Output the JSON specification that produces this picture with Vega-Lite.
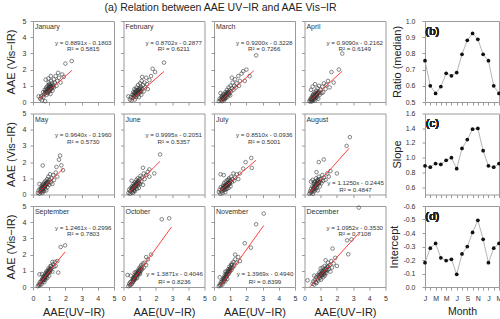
{
"$schema":"https://vega.github.io/schema/vega-lite/v6.json",
"autosize":"pad",
"padding":{"left":4,"top":3,"right":1,"bottom":4},
"title":{"text":"(a) Relation between AAE UV−IR and AAE Vis−IR","fontSize":10.5,"fontWeight":"normal","color":"#222","anchor":"middle","frame":"bounds","dx":-33,"offset":3},
"config":{
 "font":"Liberation Sans",
 "view":{"stroke":"#9a9a9a","strokeWidth":1},
 "axis":{"domain":false,"tickColor":"#9a9a9a","tickSize":3,"labelFontSize":7,"labelColor":"#333","titleFontSize":11,"titleFontWeight":"normal","titleColor":"#222","labelPadding":4,"labelOverlap":false,"labelFlush":false,"grid":false}
},
"datasets":{
"pts":[
{"m":1,"x":0.45,"y":0.2},{"m":1,"x":0.5,"y":0.35},{"m":1,"x":0.55,"y":0.1},{"m":1,"x":0.6,"y":0.4},{"m":1,"x":0.62,"y":0.6},{"m":1,"x":0.65,"y":0.3},{"m":1,"x":0.7,"y":0.5},{"m":1,"x":0.72,"y":0.75},{"m":1,"x":0.75,"y":0.05},{"m":1,"x":0.78,"y":1.38},{"m":1,"x":0.8,"y":0.6},{"m":1,"x":0.82,"y":0.9},{"m":1,"x":0.85,"y":0.45},{"m":1,"x":0.88,"y":0.7},{"m":1,"x":0.9,"y":1.0},{"m":1,"x":0.92,"y":0.55},{"m":1,"x":0.95,"y":0.85},{"m":1,"x":0.97,"y":1.2},{"m":1,"x":1.0,"y":0.65},{"m":1,"x":1.0,"y":0.95},{"m":1,"x":1.02,"y":1.1},{"m":1,"x":1.05,"y":0.8},{"m":1,"x":1.08,"y":0.5},{"m":1,"x":1.1,"y":1.0},{"m":1,"x":1.12,"y":1.3},{"m":1,"x":1.15,"y":0.85},{"m":1,"x":1.18,"y":1.15},{"m":1,"x":1.2,"y":0.7},{"m":1,"x":1.25,"y":1.05},{"m":1,"x":1.28,"y":1.4},{"m":1,"x":1.3,"y":0.9},{"m":1,"x":1.35,"y":1.2},{"m":1,"x":1.4,"y":1.6},{"m":1,"x":1.45,"y":1.0},{"m":1,"x":1.5,"y":1.3},{"m":1,"x":1.55,"y":1.8},{"m":1,"x":1.6,"y":1.5},{"m":1,"x":1.7,"y":1.2},{"m":1,"x":1.8,"y":1.7},{"m":1,"x":1.9,"y":1.55},{"m":1,"x":2.0,"y":2.37},{"m":1,"x":2.39,"y":2.53},{"m":1,"x":0.35,"y":0.35},{"m":1,"x":1.1,"y":1.6},{"m":1,"x":0.95,"y":1.45},
{"m":1,"x":0.75,"y":0.62},{"m":1,"x":0.8,"y":0.78},{"m":1,"x":0.85,"y":0.66},{"m":1,"x":0.9,"y":0.82},{"m":1,"x":0.95,"y":0.7},{"m":1,"x":1.0,"y":0.88},{"m":1,"x":1.03,"y":0.72},{"m":1,"x":1.07,"y":0.92},{"m":1,"x":1.1,"y":0.78},{"m":1,"x":1.13,"y":0.98},{"m":1,"x":1.17,"y":0.9},{"m":1,"x":1.22,"y":0.95},{"m":1,"x":0.87,"y":0.58},{"m":1,"x":0.98,"y":1.05},
{"m":2,"x":0.4,"y":0.15},{"m":2,"x":0.45,"y":0.3},{"m":2,"x":0.5,"y":0.1},{"m":2,"x":0.55,"y":0.45},{"m":2,"x":0.58,"y":0.25},{"m":2,"x":0.6,"y":0.6},{"m":2,"x":0.65,"y":0.35},{"m":2,"x":0.68,"y":0.8},{"m":2,"x":0.7,"y":0.15},{"m":2,"x":0.72,"y":0.5},{"m":2,"x":0.75,"y":0.65},{"m":2,"x":0.78,"y":0.3},{"m":2,"x":0.8,"y":0.9},{"m":2,"x":0.82,"y":0.55},{"m":2,"x":0.85,"y":0.4},{"m":2,"x":0.88,"y":0.75},{"m":2,"x":0.9,"y":1.05},{"m":2,"x":0.92,"y":0.6},{"m":2,"x":0.95,"y":0.3},{"m":2,"x":0.98,"y":0.85},{"m":2,"x":1.0,"y":0.55},{"m":2,"x":1.02,"y":1.15},{"m":2,"x":1.05,"y":0.7},{"m":2,"x":1.08,"y":0.95},{"m":2,"x":1.1,"y":0.45},{"m":2,"x":1.12,"y":1.3},{"m":2,"x":1.15,"y":0.8},{"m":2,"x":1.2,"y":1.05},{"m":2,"x":1.25,"y":0.65},{"m":2,"x":1.3,"y":1.2},{"m":2,"x":1.35,"y":0.9},{"m":2,"x":1.4,"y":1.5},{"m":2,"x":1.45,"y":1.1},{"m":2,"x":1.5,"y":0.8},{"m":2,"x":1.6,"y":1.35},{"m":2,"x":1.7,"y":1.6},{"m":2,"x":1.8,"y":2.05},{"m":2,"x":1.95,"y":1.85},{"m":2,"x":2.5,"y":2.43},{"m":2,"x":0.3,"y":0.35},{"m":2,"x":1.15,"y":1.55},
{"m":2,"x":0.62,"y":0.42},{"m":2,"x":0.66,"y":0.55},{"m":2,"x":0.7,"y":0.4},{"m":2,"x":0.74,"y":0.58},{"m":2,"x":0.78,"y":0.48},{"m":2,"x":0.82,"y":0.68},{"m":2,"x":0.86,"y":0.55},{"m":2,"x":0.9,"y":0.72},{"m":2,"x":0.94,"y":0.6},{"m":2,"x":0.97,"y":0.7},{"m":2,"x":1.01,"y":0.78},{"m":2,"x":1.06,"y":0.85},{"m":2,"x":0.76,"y":0.75},{"m":2,"x":1.1,"y":0.65},
{"m":3,"x":0.3,"y":0.05},{"m":3,"x":0.35,"y":0.2},{"m":3,"x":0.4,"y":0.1},{"m":3,"x":0.45,"y":0.3},{"m":3,"x":0.5,"y":0.05},{"m":3,"x":0.52,"y":0.4},{"m":3,"x":0.55,"y":0.2},{"m":3,"x":0.6,"y":0.5},{"m":3,"x":0.62,"y":0.1},{"m":3,"x":0.65,"y":0.35},{"m":3,"x":0.7,"y":0.6},{"m":3,"x":0.72,"y":0.25},{"m":3,"x":0.75,"y":0.45},{"m":3,"x":0.8,"y":0.75},{"m":3,"x":0.82,"y":0.3},{"m":3,"x":0.85,"y":0.55},{"m":3,"x":0.9,"y":0.9},{"m":3,"x":0.92,"y":0.45},{"m":3,"x":0.95,"y":0.7},{"m":3,"x":1.0,"y":0.4},{"m":3,"x":1.02,"y":1.0},{"m":3,"x":1.05,"y":0.65},{"m":3,"x":1.1,"y":0.85},{"m":3,"x":1.15,"y":1.2},{"m":3,"x":1.2,"y":0.75},{"m":3,"x":1.25,"y":1.0},{"m":3,"x":1.3,"y":1.4},{"m":3,"x":1.35,"y":0.9},{"m":3,"x":1.4,"y":1.15},{"m":3,"x":1.5,"y":1.6},{"m":3,"x":1.55,"y":1.0},{"m":3,"x":1.6,"y":1.3},{"m":3,"x":1.7,"y":1.75},{"m":3,"x":1.8,"y":1.9},{"m":3,"x":1.9,"y":1.3},{"m":3,"x":2.0,"y":2.0},{"m":3,"x":2.2,"y":1.6},{"m":3,"x":2.6,"y":2.88},{"m":3,"x":0.4,"y":0.55},{"m":3,"x":1.1,"y":1.5},
{"m":3,"x":0.45,"y":0.15},{"m":3,"x":0.5,"y":0.25},{"m":3,"x":0.55,"y":0.32},{"m":3,"x":0.58,"y":0.18},{"m":3,"x":0.62,"y":0.28},{"m":3,"x":0.66,"y":0.42},{"m":3,"x":0.7,"y":0.35},{"m":3,"x":0.74,"y":0.5},{"m":3,"x":0.78,"y":0.4},{"m":3,"x":0.82,"y":0.6},{"m":3,"x":0.87,"y":0.5},{"m":3,"x":0.9,"y":0.62},{"m":3,"x":0.68,"y":0.2},{"m":3,"x":0.95,"y":0.55},
{"m":4,"x":0.3,"y":0.05},{"m":4,"x":0.35,"y":0.15},{"m":4,"x":0.38,"y":0.02},{"m":4,"x":0.4,"y":0.25},{"m":4,"x":0.45,"y":0.1},{"m":4,"x":0.48,"y":0.35},{"m":4,"x":0.5,"y":0.05},{"m":4,"x":0.52,"y":0.2},{"m":4,"x":0.55,"y":0.45},{"m":4,"x":0.58,"y":0.15},{"m":4,"x":0.6,"y":0.3},{"m":4,"x":0.62,"y":0.6},{"m":4,"x":0.65,"y":0.1},{"m":4,"x":0.68,"y":0.4},{"m":4,"x":0.7,"y":0.25},{"m":4,"x":0.72,"y":0.7},{"m":4,"x":0.75,"y":0.5},{"m":4,"x":0.78,"y":0.3},{"m":4,"x":0.8,"y":0.85},{"m":4,"x":0.82,"y":0.55},{"m":4,"x":0.85,"y":0.2},{"m":4,"x":0.88,"y":0.65},{"m":4,"x":0.9,"y":1.0},{"m":4,"x":0.95,"y":0.45},{"m":4,"x":1.0,"y":0.75},{"m":4,"x":1.05,"y":0.55},{"m":4,"x":1.1,"y":0.95},{"m":4,"x":1.15,"y":0.6},{"m":4,"x":1.2,"y":1.15},{"m":4,"x":1.3,"y":0.8},{"m":4,"x":1.35,"y":1.05},{"m":4,"x":1.45,"y":1.3},{"m":4,"x":1.55,"y":0.9},{"m":4,"x":0.5,"y":0.95},{"m":4,"x":0.65,"y":1.1},{"m":4,"x":0.4,"y":0.75},{"m":4,"x":1.67,"y":1.85},{"m":4,"x":2.12,"y":2.0},{"m":4,"x":2.33,"y":2.99},{"m":4,"x":1.8,"y":1.2},
{"m":4,"x":0.42,"y":0.12},{"m":4,"x":0.46,"y":0.22},{"m":4,"x":0.5,"y":0.15},{"m":4,"x":0.54,"y":0.3},{"m":4,"x":0.57,"y":0.25},{"m":4,"x":0.6,"y":0.4},{"m":4,"x":0.64,"y":0.32},{"m":4,"x":0.67,"y":0.5},{"m":4,"x":0.71,"y":0.38},{"m":4,"x":0.74,"y":0.55},{"m":4,"x":0.78,"y":0.45},{"m":4,"x":0.83,"y":0.6},{"m":4,"x":0.52,"y":0.45},{"m":4,"x":0.9,"y":0.55},
{"m":5,"x":0.3,"y":0.1},{"m":5,"x":0.35,"y":0.25},{"m":5,"x":0.4,"y":0.05},{"m":5,"x":0.42,"y":0.35},{"m":5,"x":0.45,"y":0.15},{"m":5,"x":0.5,"y":0.4},{"m":5,"x":0.52,"y":0.2},{"m":5,"x":0.55,"y":0.55},{"m":5,"x":0.58,"y":0.1},{"m":5,"x":0.6,"y":0.3},{"m":5,"x":0.62,"y":0.65},{"m":5,"x":0.65,"y":0.45},{"m":5,"x":0.68,"y":0.2},{"m":5,"x":0.7,"y":0.75},{"m":5,"x":0.72,"y":0.5},{"m":5,"x":0.75,"y":0.35},{"m":5,"x":0.78,"y":0.85},{"m":5,"x":0.8,"y":0.6},{"m":5,"x":0.82,"y":0.25},{"m":5,"x":0.85,"y":0.7},{"m":5,"x":0.88,"y":0.95},{"m":5,"x":0.9,"y":0.45},{"m":5,"x":0.93,"y":0.8},{"m":5,"x":0.95,"y":1.1},{"m":5,"x":1.0,"y":0.6},{"m":5,"x":1.02,"y":0.9},{"m":5,"x":1.05,"y":1.25},{"m":5,"x":1.1,"y":0.75},{"m":5,"x":1.15,"y":1.0},{"m":5,"x":1.2,"y":0.65},{"m":5,"x":1.25,"y":1.2},{"m":5,"x":1.3,"y":0.9},{"m":5,"x":1.4,"y":1.35},{"m":5,"x":1.5,"y":1.1},{"m":5,"x":0.6,"y":1.79},{"m":5,"x":1.67,"y":2.4},{"m":5,"x":1.6,"y":2.15},{"m":5,"x":1.75,"y":1.8},{"m":5,"x":1.85,"y":1.5},{"m":5,"x":1.45,"y":1.7},{"m":5,"x":0.4,"y":0.65},
{"m":5,"x":0.5,"y":0.28},{"m":5,"x":0.55,"y":0.35},{"m":5,"x":0.58,"y":0.45},{"m":5,"x":0.62,"y":0.4},{"m":5,"x":0.65,"y":0.55},{"m":5,"x":0.68,"y":0.48},{"m":5,"x":0.72,"y":0.6},{"m":5,"x":0.75,"y":0.52},{"m":5,"x":0.78,"y":0.68},{"m":5,"x":0.82,"y":0.62},{"m":5,"x":0.86,"y":0.75},{"m":5,"x":0.9,"y":0.65},{"m":5,"x":0.6,"y":0.2},{"m":5,"x":0.95,"y":0.78},
{"m":6,"x":0.3,"y":0.1},{"m":6,"x":0.35,"y":0.3},{"m":6,"x":0.4,"y":0.05},{"m":6,"x":0.42,"y":0.2},{"m":6,"x":0.45,"y":0.4},{"m":6,"x":0.5,"y":0.15},{"m":6,"x":0.52,"y":0.5},{"m":6,"x":0.55,"y":0.3},{"m":6,"x":0.58,"y":0.1},{"m":6,"x":0.6,"y":0.45},{"m":6,"x":0.62,"y":0.65},{"m":6,"x":0.65,"y":0.3},{"m":6,"x":0.68,"y":0.55},{"m":6,"x":0.7,"y":0.2},{"m":6,"x":0.72,"y":0.75},{"m":6,"x":0.75,"y":0.45},{"m":6,"x":0.78,"y":0.6},{"m":6,"x":0.8,"y":0.9},{"m":6,"x":0.82,"y":0.35},{"m":6,"x":0.85,"y":0.7},{"m":6,"x":0.88,"y":1.0},{"m":6,"x":0.9,"y":0.55},{"m":6,"x":0.93,"y":0.8},{"m":6,"x":0.95,"y":0.4},{"m":6,"x":1.0,"y":0.95},{"m":6,"x":1.02,"y":0.65},{"m":6,"x":1.05,"y":1.15},{"m":6,"x":1.1,"y":0.8},{"m":6,"x":1.15,"y":1.05},{"m":6,"x":1.2,"y":0.6},{"m":6,"x":1.25,"y":1.3},{"m":6,"x":1.3,"y":0.95},{"m":6,"x":1.4,"y":1.2},{"m":6,"x":1.5,"y":1.4},{"m":6,"x":1.6,"y":1.1},{"m":6,"x":1.2,"y":1.65},{"m":6,"x":1.6,"y":1.55},{"m":6,"x":1.9,"y":1.3},{"m":6,"x":2.26,"y":2.47},{"m":6,"x":0.5,"y":0.85},
{"m":6,"x":0.5,"y":0.3},{"m":6,"x":0.54,"y":0.4},{"m":6,"x":0.58,"y":0.35},{"m":6,"x":0.62,"y":0.5},{"m":6,"x":0.66,"y":0.42},{"m":6,"x":0.7,"y":0.58},{"m":6,"x":0.73,"y":0.5},{"m":6,"x":0.77,"y":0.68},{"m":6,"x":0.8,"y":0.6},{"m":6,"x":0.84,"y":0.75},{"m":6,"x":0.88,"y":0.68},{"m":6,"x":0.92,"y":0.85},{"m":6,"x":0.64,"y":0.22},{"m":6,"x":0.96,"y":0.7},
{"m":7,"x":0.3,"y":0.15},{"m":7,"x":0.35,"y":0.3},{"m":7,"x":0.4,"y":0.05},{"m":7,"x":0.42,"y":0.45},{"m":7,"x":0.45,"y":0.2},{"m":7,"x":0.5,"y":0.35},{"m":7,"x":0.52,"y":0.1},{"m":7,"x":0.55,"y":0.55},{"m":7,"x":0.58,"y":0.25},{"m":7,"x":0.6,"y":0.4},{"m":7,"x":0.62,"y":0.7},{"m":7,"x":0.65,"y":0.3},{"m":7,"x":0.68,"y":0.5},{"m":7,"x":0.7,"y":0.15},{"m":7,"x":0.72,"y":0.8},{"m":7,"x":0.75,"y":0.45},{"m":7,"x":0.78,"y":0.6},{"m":7,"x":0.8,"y":0.35},{"m":7,"x":0.82,"y":0.9},{"m":7,"x":0.85,"y":0.55},{"m":7,"x":0.88,"y":0.7},{"m":7,"x":0.9,"y":0.4},{"m":7,"x":0.93,"y":1.0},{"m":7,"x":0.95,"y":0.65},{"m":7,"x":1.0,"y":0.8},{"m":7,"x":1.02,"y":0.5},{"m":7,"x":1.05,"y":1.1},{"m":7,"x":1.1,"y":0.75},{"m":7,"x":1.15,"y":0.95},{"m":7,"x":1.2,"y":1.3},{"m":7,"x":1.25,"y":0.85},{"m":7,"x":1.3,"y":1.05},{"m":7,"x":1.4,"y":1.25},{"m":7,"x":1.5,"y":0.95},{"m":7,"x":1.6,"y":1.3},{"m":7,"x":0.4,"y":1.25},{"m":7,"x":0.6,"y":1.2},{"m":7,"x":1.95,"y":2.0},{"m":7,"x":1.8,"y":1.6},{"m":7,"x":2.33,"y":1.64},{"m":7,"x":2.3,"y":2.25},
{"m":7,"x":0.55,"y":0.38},{"m":7,"x":0.6,"y":0.48},{"m":7,"x":0.64,"y":0.42},{"m":7,"x":0.68,"y":0.58},{"m":7,"x":0.72,"y":0.5},{"m":7,"x":0.76,"y":0.62},{"m":7,"x":0.8,"y":0.55},{"m":7,"x":0.84,"y":0.68},{"m":7,"x":0.88,"y":0.6},{"m":7,"x":0.92,"y":0.75},{"m":7,"x":0.97,"y":0.7},{"m":7,"x":1.02,"y":0.85},{"m":7,"x":0.7,"y":0.3},{"m":7,"x":0.9,"y":0.9},
{"m":8,"x":0.3,"y":0.05},{"m":8,"x":0.35,"y":0.2},{"m":8,"x":0.38,"y":0.1},{"m":8,"x":0.4,"y":0.35},{"m":8,"x":0.45,"y":0.15},{"m":8,"x":0.48,"y":0.5},{"m":8,"x":0.5,"y":0.25},{"m":8,"x":0.52,"y":0.05},{"m":8,"x":0.55,"y":0.4},{"m":8,"x":0.58,"y":0.65},{"m":8,"x":0.6,"y":0.2},{"m":8,"x":0.62,"y":0.45},{"m":8,"x":0.65,"y":0.8},{"m":8,"x":0.68,"y":0.3},{"m":8,"x":0.7,"y":0.55},{"m":8,"x":0.72,"y":1.0},{"m":8,"x":0.75,"y":0.4},{"m":8,"x":0.78,"y":0.7},{"m":8,"x":0.8,"y":0.9},{"m":8,"x":0.82,"y":0.25},{"m":8,"x":0.85,"y":0.6},{"m":8,"x":0.88,"y":1.1},{"m":8,"x":0.9,"y":0.75},{"m":8,"x":0.95,"y":0.5},{"m":8,"x":1.0,"y":0.95},{"m":8,"x":1.05,"y":0.7},{"m":8,"x":1.1,"y":1.2},{"m":8,"x":1.15,"y":0.85},{"m":8,"x":1.2,"y":1.05},{"m":8,"x":1.3,"y":0.9},{"m":8,"x":1.4,"y":1.3},{"m":8,"x":1.5,"y":1.1},{"m":8,"x":0.5,"y":0.9},{"m":8,"x":0.74,"y":1.38},{"m":8,"x":0.88,"y":2.0},{"m":8,"x":1.19,"y":2.16},{"m":8,"x":1.6,"y":1.45},{"m":8,"x":2.0,"y":1.3},{"m":8,"x":2.6,"y":3.0},{"m":8,"x":2.8,"y":3.54},{"m":8,"x":0.4,"y":0.8},
{"m":8,"x":0.52,"y":0.3},{"m":8,"x":0.56,"y":0.42},{"m":8,"x":0.6,"y":0.35},{"m":8,"x":0.64,"y":0.55},{"m":8,"x":0.67,"y":0.45},{"m":8,"x":0.7,"y":0.65},{"m":8,"x":0.74,"y":0.58},{"m":8,"x":0.77,"y":0.8},{"m":8,"x":0.8,"y":0.65},{"m":8,"x":0.84,"y":0.85},{"m":8,"x":0.88,"y":0.72},{"m":8,"x":0.92,"y":0.95},{"m":8,"x":0.6,"y":0.75},{"m":8,"x":0.98,"y":0.8},
{"m":9,"x":0.3,"y":0.05},{"m":9,"x":0.35,"y":0.15},{"m":9,"x":0.4,"y":0.1},{"m":9,"x":0.42,"y":0.3},{"m":9,"x":0.45,"y":0.2},{"m":9,"x":0.5,"y":0.35},{"m":9,"x":0.52,"y":0.15},{"m":9,"x":0.55,"y":0.45},{"m":9,"x":0.58,"y":0.3},{"m":9,"x":0.6,"y":0.55},{"m":9,"x":0.62,"y":0.4},{"m":9,"x":0.65,"y":0.65},{"m":9,"x":0.68,"y":0.45},{"m":9,"x":0.7,"y":0.3},{"m":9,"x":0.72,"y":0.7},{"m":9,"x":0.75,"y":0.55},{"m":9,"x":0.78,"y":0.85},{"m":9,"x":0.8,"y":0.6},{"m":9,"x":0.82,"y":0.95},{"m":9,"x":0.85,"y":0.75},{"m":9,"x":0.88,"y":0.55},{"m":9,"x":0.9,"y":1.0},{"m":9,"x":0.92,"y":0.8},{"m":9,"x":0.95,"y":1.15},{"m":9,"x":0.98,"y":0.9},{"m":9,"x":1.0,"y":0.7},{"m":9,"x":1.02,"y":1.1},{"m":9,"x":1.05,"y":0.95},{"m":9,"x":1.08,"y":1.3},{"m":9,"x":1.1,"y":1.05},{"m":9,"x":1.15,"y":1.2},{"m":9,"x":1.2,"y":0.95},{"m":9,"x":1.25,"y":1.4},{"m":9,"x":1.3,"y":1.25},{"m":9,"x":1.35,"y":1.55},{"m":9,"x":1.4,"y":1.3},{"m":9,"x":1.5,"y":1.6},{"m":9,"x":0.4,"y":0.78},{"m":9,"x":1.56,"y":0.89},{"m":9,"x":1.71,"y":2.47},{"m":9,"x":1.98,"y":2.57},{"m":9,"x":0.55,"y":0.8},{"m":9,"x":1.2,"y":1.55},
{"m":9,"x":0.6,"y":0.45},{"m":9,"x":0.65,"y":0.52},{"m":9,"x":0.7,"y":0.6},{"m":9,"x":0.74,"y":0.62},{"m":9,"x":0.78,"y":0.7},{"m":9,"x":0.82,"y":0.75},{"m":9,"x":0.86,"y":0.85},{"m":9,"x":0.9,"y":0.88},{"m":9,"x":0.94,"y":0.95},{"m":9,"x":0.98,"y":1.02},{"m":9,"x":1.03,"y":1.05},{"m":9,"x":1.07,"y":1.12},{"m":9,"x":0.76,"y":0.45},{"m":9,"x":1.12,"y":1.3},
{"m":10,"x":0.3,"y":0.05},{"m":10,"x":0.35,"y":0.2},{"m":10,"x":0.4,"y":0.1},{"m":10,"x":0.42,"y":0.3},{"m":10,"x":0.45,"y":0.15},{"m":10,"x":0.5,"y":0.35},{"m":10,"x":0.52,"y":0.2},{"m":10,"x":0.55,"y":0.45},{"m":10,"x":0.58,"y":0.3},{"m":10,"x":0.6,"y":0.55},{"m":10,"x":0.62,"y":0.35},{"m":10,"x":0.65,"y":0.6},{"m":10,"x":0.68,"y":0.45},{"m":10,"x":0.7,"y":0.75},{"m":10,"x":0.72,"y":0.5},{"m":10,"x":0.75,"y":0.65},{"m":10,"x":0.78,"y":0.9},{"m":10,"x":0.8,"y":0.6},{"m":10,"x":0.82,"y":0.8},{"m":10,"x":0.85,"y":0.55},{"m":10,"x":0.88,"y":1.0},{"m":10,"x":0.9,"y":0.75},{"m":10,"x":0.92,"y":0.95},{"m":10,"x":0.95,"y":1.15},{"m":10,"x":0.98,"y":0.85},{"m":10,"x":1.0,"y":1.05},{"m":10,"x":1.02,"y":0.8},{"m":10,"x":1.05,"y":1.25},{"m":10,"x":1.08,"y":1.0},{"m":10,"x":1.1,"y":1.35},{"m":10,"x":1.15,"y":1.1},{"m":10,"x":1.2,"y":1.45},{"m":10,"x":1.25,"y":1.2},{"m":10,"x":1.3,"y":1.5},{"m":10,"x":1.4,"y":1.35},{"m":10,"x":1.5,"y":1.7},{"m":10,"x":0.25,"y":0.74},{"m":10,"x":0.45,"y":0.7},{"m":10,"x":1.4,"y":1.85},{"m":10,"x":1.7,"y":2.0},{"m":10,"x":2.36,"y":4.18},{"m":10,"x":2.82,"y":4.24},
{"m":10,"x":0.6,"y":0.42},{"m":10,"x":0.64,"y":0.5},{"m":10,"x":0.68,"y":0.55},{"m":10,"x":0.72,"y":0.62},{"m":10,"x":0.76,"y":0.7},{"m":10,"x":0.8,"y":0.72},{"m":10,"x":0.84,"y":0.82},{"m":10,"x":0.88,"y":0.88},{"m":10,"x":0.92,"y":0.85},{"m":10,"x":0.96,"y":1.0},{"m":10,"x":1.0,"y":0.95},{"m":10,"x":1.05,"y":1.1},{"m":10,"x":0.7,"y":0.9},{"m":10,"x":1.12,"y":1.2},
{"m":11,"x":0.3,"y":0.05},{"m":11,"x":0.35,"y":0.15},{"m":11,"x":0.4,"y":0.1},{"m":11,"x":0.42,"y":0.3},{"m":11,"x":0.45,"y":0.2},{"m":11,"x":0.5,"y":0.35},{"m":11,"x":0.52,"y":0.15},{"m":11,"x":0.55,"y":0.45},{"m":11,"x":0.58,"y":0.3},{"m":11,"x":0.6,"y":0.55},{"m":11,"x":0.62,"y":0.4},{"m":11,"x":0.65,"y":0.7},{"m":11,"x":0.68,"y":0.5},{"m":11,"x":0.7,"y":0.35},{"m":11,"x":0.72,"y":0.8},{"m":11,"x":0.75,"y":0.6},{"m":11,"x":0.78,"y":0.95},{"m":11,"x":0.8,"y":0.7},{"m":11,"x":0.82,"y":0.5},{"m":11,"x":0.85,"y":0.9},{"m":11,"x":0.88,"y":1.1},{"m":11,"x":0.9,"y":0.8},{"m":11,"x":0.92,"y":1.0},{"m":11,"x":0.95,"y":1.25},{"m":11,"x":0.98,"y":0.95},{"m":11,"x":1.0,"y":1.15},{"m":11,"x":1.05,"y":1.35},{"m":11,"x":1.08,"y":1.05},{"m":11,"x":1.1,"y":1.45},{"m":11,"x":1.15,"y":1.2},{"m":11,"x":1.2,"y":1.55},{"m":11,"x":1.25,"y":1.3},{"m":11,"x":1.3,"y":1.7},{"m":11,"x":1.4,"y":1.5},{"m":11,"x":1.5,"y":1.85},{"m":11,"x":1.6,"y":1.6},{"m":11,"x":0.35,"y":0.6},{"m":11,"x":1.3,"y":2.0},{"m":11,"x":2.28,"y":2.43},{"m":11,"x":1.9,"y":2.7},{"m":11,"x":2.6,"y":3.87},{"m":11,"x":3.07,"y":4.53},
{"m":11,"x":0.6,"y":0.45},{"m":11,"x":0.64,"y":0.55},{"m":11,"x":0.68,"y":0.6},{"m":11,"x":0.72,"y":0.65},{"m":11,"x":0.76,"y":0.72},{"m":11,"x":0.8,"y":0.82},{"m":11,"x":0.84,"y":0.8},{"m":11,"x":0.88,"y":0.95},{"m":11,"x":0.92,"y":0.92},{"m":11,"x":0.96,"y":1.1},{"m":11,"x":1.0,"y":1.05},{"m":11,"x":1.05,"y":1.2},{"m":11,"x":0.7,"y":0.95},{"m":11,"x":1.12,"y":1.35},
{"m":12,"x":0.5,"y":0.2},{"m":12,"x":0.55,"y":0.35},{"m":12,"x":0.6,"y":0.15},{"m":12,"x":0.65,"y":0.45},{"m":12,"x":0.7,"y":0.3},{"m":12,"x":0.72,"y":0.6},{"m":12,"x":0.75,"y":0.25},{"m":12,"x":0.8,"y":0.5},{"m":12,"x":0.82,"y":0.75},{"m":12,"x":0.85,"y":0.4},{"m":12,"x":0.9,"y":0.65},{"m":12,"x":0.92,"y":0.9},{"m":12,"x":0.95,"y":0.55},{"m":12,"x":1.0,"y":0.8},{"m":12,"x":1.02,"y":0.45},{"m":12,"x":1.05,"y":1.0},{"m":12,"x":1.08,"y":0.7},{"m":12,"x":1.1,"y":0.9},{"m":12,"x":1.12,"y":1.2},{"m":12,"x":1.15,"y":0.6},{"m":12,"x":1.2,"y":1.0},{"m":12,"x":1.22,"y":0.8},{"m":12,"x":1.25,"y":1.3},{"m":12,"x":1.3,"y":1.05},{"m":12,"x":1.35,"y":0.85},{"m":12,"x":1.4,"y":1.25},{"m":12,"x":1.45,"y":1.5},{"m":12,"x":1.5,"y":1.1},{"m":12,"x":1.55,"y":1.35},{"m":12,"x":1.6,"y":0.95},{"m":12,"x":1.65,"y":1.6},{"m":12,"x":1.7,"y":1.2},{"m":12,"x":1.8,"y":1.45},{"m":12,"x":1.9,"y":1.8},{"m":12,"x":2.0,"y":1.3},{"m":12,"x":0.19,"y":0.41},{"m":12,"x":1.73,"y":2.37},{"m":12,"x":2.7,"y":2.02},{"m":12,"x":2.63,"y":2.88},{"m":12,"x":2.9,"y":2.94},{"m":12,"x":3.35,"y":4.9},{"m":12,"x":0.6,"y":0.7},{"m":12,"x":1.3,"y":1.65},
{"m":12,"x":0.9,"y":0.72},{"m":12,"x":0.95,"y":0.78},{"m":12,"x":1.0,"y":0.68},{"m":12,"x":1.05,"y":0.85},{"m":12,"x":1.1,"y":0.75},{"m":12,"x":1.15,"y":0.95},{"m":12,"x":1.2,"y":0.88},{"m":12,"x":1.25,"y":1.1},{"m":12,"x":1.3,"y":0.95},{"m":12,"x":1.35,"y":1.15},{"m":12,"x":1.4,"y":1.05},{"m":12,"x":1.45,"y":1.25},{"m":12,"x":1.0,"y":1.15},{"m":12,"x":1.25,"y":0.7}
],
"fit":[
{"m":1,"x":0.35,"y":0.131},{"m":1,"x":2.4,"y":1.954},
{"m":2,"x":0.45,"y":0.104},{"m":2,"x":2.5,"y":1.888},
{"m":3,"x":0.4,"y":0.045},{"m":3,"x":2.45,"y":1.931},
{"m":4,"x":0.39,"y":0.138},{"m":4,"x":2.33,"y":1.902},
{"m":5,"x":0.3,"y":0.093},{"m":5,"x":1.85,"y":1.587},
{"m":6,"x":0.35,"y":0.145},{"m":6,"x":2.25,"y":2.044},
{"m":7,"x":0.3,"y":0.162},{"m":7,"x":2.6,"y":2.119},
{"m":8,"x":0.3,"y":0.093},{"m":8,"x":2.75,"y":2.849},
{"m":9,"x":0.3,"y":0.074},{"m":9,"x":1.98,"y":2.168},
{"m":10,"x":0.35,"y":0.081},{"m":10,"x":2.96,"y":3.701},
{"m":11,"x":0.4,"y":0.065},{"m":11,"x":3.07,"y":3.794},
{"m":12,"x":0.33,"y":0.008},{"m":12,"x":3.35,"y":3.316}
],
"txt":[
{"m":1,"name":"January","eq":"y = 0.8891x - 0.1803","r2":"R² = 0.5815"},
{"m":2,"name":"February","eq":"y = 0.8702x - 0.2877","r2":"R² = 0.6211"},
{"m":3,"name":"March","eq":"y = 0.9200x - 0.3228","r2":"R² = 0.7266"},
{"m":4,"name":"April","eq":"y = 0.9090x - 0.2162","r2":"R² = 0.6149"},
{"m":5,"name":"May","eq":"y = 0.9640x - 0.1960","r2":"R² = 0.5730"},
{"m":6,"name":"June","eq":"y = 0.9995x - 0.2051","r2":"R² = 0.5357"},
{"m":7,"name":"July","eq":"y = 0.8510x - 0.0936","r2":"R² = 0.5001"},
{"m":8,"name":"August","eq":"y = 1.1250x - 0.2445","r2":"R² = 0.4847"},
{"m":9,"name":"September","eq":"y = 1.2461x - 0.2996","r2":"R² = 0.7803"},
{"m":10,"name":"October","eq":"y = 1.3871x - 0.4046","r2":"R² = 0.8236"},
{"m":11,"name":"November","eq":"y = 1.3969x - 0.4940","r2":"R² = 0.8399"},
{"m":12,"name":"December","eq":"y = 1.0952x - 0.3530","r2":"R² = 0.7108"}
],
"mon":[
{"i":1,"r":0.755,"s":0.8891,"c":-0.1803},{"i":2,"r":0.6,"s":0.8702,"c":-0.2877},{"i":3,"r":0.553,"s":0.92,"c":-0.3228},{"i":4,"r":0.595,"s":0.909,"c":-0.2162},{"i":5,"r":0.677,"s":0.964,"c":-0.196},{"i":6,"r":0.662,"s":0.9995,"c":-0.2051},{"i":7,"r":0.682,"s":0.851,"c":-0.0936},{"i":8,"r":0.794,"s":1.125,"c":-0.2445},{"i":9,"r":0.881,"s":1.2461,"c":-0.2996},{"i":10,"r":0.923,"s":1.3871,"c":-0.4046},{"i":11,"r":0.887,"s":1.3969,"c":-0.494},{"i":12,"r":0.794,"s":1.0952,"c":-0.353},{"i":13,"r":0.755,"s":0.8891,"c":-0.1803},{"i":14,"r":0.6,"s":0.8702,"c":-0.2877},{"i":15,"r":0.553,"s":0.92,"c":-0.3228}
]
},
"spacing":0,
"hconcat":[
{"columns":4,"align":"each","spacing":{"row":2.5,"column":2.5},
"concat":[
{"width":81,"height":81,"layer":[
 {"data":{"name":"pts"},"transform":[{"filter":"datum.m==1"}],"mark":{"type":"point","size":13,"strokeWidth":0.8,"color":"#333","opacity":0.75},"encoding":{"x":{"field":"x","type":"quantitative","scale":{"domain":[0,5],"nice":false},"axis":{"values":[0,1,2,3,4,5],"tickCount":12,"format":"d","labels":false,"title":null}},"y":{"field":"y","type":"quantitative","scale":{"domain":[0,5],"nice":false},"axis":{"values":[0,1,2,3,4,5],"tickCount":12,"format":"d","title":"AAE (Vis−IR)","titlePadding":6}}}},
 {"data":{"name":"fit"},"transform":[{"filter":"datum.m==1"}],"mark":{"type":"line","color":"#ff2a2a","strokeWidth":0.9},"encoding":{"x":{"field":"x","type":"quantitative"},"y":{"field":"y","type":"quantitative"}}},
 {"data":{"name":"txt"},"transform":[{"filter":"datum.m==1"}],"mark":{"type":"text","align":"left","fontSize":7,"color":"#333"},"encoding":{"x":{"datum":0.12},"y":{"datum":4.6},"text":{"field":"name"}}},
 {"data":{"name":"txt"},"transform":[{"filter":"datum.m==1"}],"mark":{"type":"text","fontSize":6.2,"color":"#333"},"encoding":{"x":{"datum":3.1},"y":{"datum":3.67},"text":{"field":"eq"}}},
 {"data":{"name":"txt"},"transform":[{"filter":"datum.m==1"}],"mark":{"type":"text","fontSize":6.2,"color":"#333"},"encoding":{"x":{"datum":3.1},"y":{"datum":3.25},"text":{"field":"r2"}}}
]},
{"width":81,"height":81,"layer":[
 {"data":{"name":"pts"},"transform":[{"filter":"datum.m==2"}],"mark":{"type":"point","size":13,"strokeWidth":0.8,"color":"#333","opacity":0.75},"encoding":{"x":{"field":"x","type":"quantitative","scale":{"domain":[0,5],"nice":false},"axis":{"values":[0,1,2,3,4,5],"tickCount":12,"format":"d","labels":false,"title":null}},"y":{"field":"y","type":"quantitative","scale":{"domain":[0,5],"nice":false},"axis":{"values":[0,1,2,3,4,5],"tickCount":12,"format":"d","labels":false,"title":null}}}},
 {"data":{"name":"fit"},"transform":[{"filter":"datum.m==2"}],"mark":{"type":"line","color":"#ff2a2a","strokeWidth":0.9},"encoding":{"x":{"field":"x","type":"quantitative"},"y":{"field":"y","type":"quantitative"}}},
 {"data":{"name":"txt"},"transform":[{"filter":"datum.m==2"}],"mark":{"type":"text","align":"left","fontSize":7,"color":"#333"},"encoding":{"x":{"datum":0.12},"y":{"datum":4.6},"text":{"field":"name"}}},
 {"data":{"name":"txt"},"transform":[{"filter":"datum.m==2"}],"mark":{"type":"text","fontSize":6.2,"color":"#333"},"encoding":{"x":{"datum":3.1},"y":{"datum":3.67},"text":{"field":"eq"}}},
 {"data":{"name":"txt"},"transform":[{"filter":"datum.m==2"}],"mark":{"type":"text","fontSize":6.2,"color":"#333"},"encoding":{"x":{"datum":3.1},"y":{"datum":3.25},"text":{"field":"r2"}}}
]},
{"width":81,"height":81,"layer":[
 {"data":{"name":"pts"},"transform":[{"filter":"datum.m==3"}],"mark":{"type":"point","size":13,"strokeWidth":0.8,"color":"#333","opacity":0.75},"encoding":{"x":{"field":"x","type":"quantitative","scale":{"domain":[0,5],"nice":false},"axis":{"values":[0,1,2,3,4,5],"tickCount":12,"format":"d","labels":false,"title":null}},"y":{"field":"y","type":"quantitative","scale":{"domain":[0,5],"nice":false},"axis":{"values":[0,1,2,3,4,5],"tickCount":12,"format":"d","labels":false,"title":null}}}},
 {"data":{"name":"fit"},"transform":[{"filter":"datum.m==3"}],"mark":{"type":"line","color":"#ff2a2a","strokeWidth":0.9},"encoding":{"x":{"field":"x","type":"quantitative"},"y":{"field":"y","type":"quantitative"}}},
 {"data":{"name":"txt"},"transform":[{"filter":"datum.m==3"}],"mark":{"type":"text","align":"left","fontSize":7,"color":"#333"},"encoding":{"x":{"datum":0.12},"y":{"datum":4.6},"text":{"field":"name"}}},
 {"data":{"name":"txt"},"transform":[{"filter":"datum.m==3"}],"mark":{"type":"text","fontSize":6.2,"color":"#333"},"encoding":{"x":{"datum":3.1},"y":{"datum":3.67},"text":{"field":"eq"}}},
 {"data":{"name":"txt"},"transform":[{"filter":"datum.m==3"}],"mark":{"type":"text","fontSize":6.2,"color":"#333"},"encoding":{"x":{"datum":3.1},"y":{"datum":3.25},"text":{"field":"r2"}}}
]},
{"width":81,"height":81,"layer":[
 {"data":{"name":"pts"},"transform":[{"filter":"datum.m==4"}],"mark":{"type":"point","size":13,"strokeWidth":0.8,"color":"#333","opacity":0.75},"encoding":{"x":{"field":"x","type":"quantitative","scale":{"domain":[0,5],"nice":false},"axis":{"values":[0,1,2,3,4,5],"tickCount":12,"format":"d","labels":false,"title":null}},"y":{"field":"y","type":"quantitative","scale":{"domain":[0,5],"nice":false},"axis":{"values":[0,1,2,3,4,5],"tickCount":12,"format":"d","labels":false,"title":null}}}},
 {"data":{"name":"fit"},"transform":[{"filter":"datum.m==4"}],"mark":{"type":"line","color":"#ff2a2a","strokeWidth":0.9},"encoding":{"x":{"field":"x","type":"quantitative"},"y":{"field":"y","type":"quantitative"}}},
 {"data":{"name":"txt"},"transform":[{"filter":"datum.m==4"}],"mark":{"type":"text","align":"left","fontSize":7,"color":"#333"},"encoding":{"x":{"datum":0.12},"y":{"datum":4.6},"text":{"field":"name"}}},
 {"data":{"name":"txt"},"transform":[{"filter":"datum.m==4"}],"mark":{"type":"text","fontSize":6.2,"color":"#333"},"encoding":{"x":{"datum":3.1},"y":{"datum":3.67},"text":{"field":"eq"}}},
 {"data":{"name":"txt"},"transform":[{"filter":"datum.m==4"}],"mark":{"type":"text","fontSize":6.2,"color":"#333"},"encoding":{"x":{"datum":3.1},"y":{"datum":3.25},"text":{"field":"r2"}}}
]},
{"width":81,"height":81,"layer":[
 {"data":{"name":"pts"},"transform":[{"filter":"datum.m==5"}],"mark":{"type":"point","size":13,"strokeWidth":0.8,"color":"#333","opacity":0.75},"encoding":{"x":{"field":"x","type":"quantitative","scale":{"domain":[0,5],"nice":false},"axis":{"values":[0,1,2,3,4,5],"tickCount":12,"format":"d","labels":false,"title":null}},"y":{"field":"y","type":"quantitative","scale":{"domain":[0,5],"nice":false},"axis":{"values":[0,1,2,3,4,5],"tickCount":12,"format":"d","title":"AAE (Vis−IR)","titlePadding":6}}}},
 {"data":{"name":"fit"},"transform":[{"filter":"datum.m==5"}],"mark":{"type":"line","color":"#ff2a2a","strokeWidth":0.9},"encoding":{"x":{"field":"x","type":"quantitative"},"y":{"field":"y","type":"quantitative"}}},
 {"data":{"name":"txt"},"transform":[{"filter":"datum.m==5"}],"mark":{"type":"text","align":"left","fontSize":7,"color":"#333"},"encoding":{"x":{"datum":0.12},"y":{"datum":4.6},"text":{"field":"name"}}},
 {"data":{"name":"txt"},"transform":[{"filter":"datum.m==5"}],"mark":{"type":"text","fontSize":6.2,"color":"#333"},"encoding":{"x":{"datum":3.1},"y":{"datum":3.67},"text":{"field":"eq"}}},
 {"data":{"name":"txt"},"transform":[{"filter":"datum.m==5"}],"mark":{"type":"text","fontSize":6.2,"color":"#333"},"encoding":{"x":{"datum":3.1},"y":{"datum":3.25},"text":{"field":"r2"}}}
]},
{"width":81,"height":81,"layer":[
 {"data":{"name":"pts"},"transform":[{"filter":"datum.m==6"}],"mark":{"type":"point","size":13,"strokeWidth":0.8,"color":"#333","opacity":0.75},"encoding":{"x":{"field":"x","type":"quantitative","scale":{"domain":[0,5],"nice":false},"axis":{"values":[0,1,2,3,4,5],"tickCount":12,"format":"d","labels":false,"title":null}},"y":{"field":"y","type":"quantitative","scale":{"domain":[0,5],"nice":false},"axis":{"values":[0,1,2,3,4,5],"tickCount":12,"format":"d","labels":false,"title":null}}}},
 {"data":{"name":"fit"},"transform":[{"filter":"datum.m==6"}],"mark":{"type":"line","color":"#ff2a2a","strokeWidth":0.9},"encoding":{"x":{"field":"x","type":"quantitative"},"y":{"field":"y","type":"quantitative"}}},
 {"data":{"name":"txt"},"transform":[{"filter":"datum.m==6"}],"mark":{"type":"text","align":"left","fontSize":7,"color":"#333"},"encoding":{"x":{"datum":0.12},"y":{"datum":4.6},"text":{"field":"name"}}},
 {"data":{"name":"txt"},"transform":[{"filter":"datum.m==6"}],"mark":{"type":"text","fontSize":6.2,"color":"#333"},"encoding":{"x":{"datum":3.1},"y":{"datum":3.67},"text":{"field":"eq"}}},
 {"data":{"name":"txt"},"transform":[{"filter":"datum.m==6"}],"mark":{"type":"text","fontSize":6.2,"color":"#333"},"encoding":{"x":{"datum":3.1},"y":{"datum":3.25},"text":{"field":"r2"}}}
]},
{"width":81,"height":81,"layer":[
 {"data":{"name":"pts"},"transform":[{"filter":"datum.m==7"}],"mark":{"type":"point","size":13,"strokeWidth":0.8,"color":"#333","opacity":0.75},"encoding":{"x":{"field":"x","type":"quantitative","scale":{"domain":[0,5],"nice":false},"axis":{"values":[0,1,2,3,4,5],"tickCount":12,"format":"d","labels":false,"title":null}},"y":{"field":"y","type":"quantitative","scale":{"domain":[0,5],"nice":false},"axis":{"values":[0,1,2,3,4,5],"tickCount":12,"format":"d","labels":false,"title":null}}}},
 {"data":{"name":"fit"},"transform":[{"filter":"datum.m==7"}],"mark":{"type":"line","color":"#ff2a2a","strokeWidth":0.9},"encoding":{"x":{"field":"x","type":"quantitative"},"y":{"field":"y","type":"quantitative"}}},
 {"data":{"name":"txt"},"transform":[{"filter":"datum.m==7"}],"mark":{"type":"text","align":"left","fontSize":7,"color":"#333"},"encoding":{"x":{"datum":0.12},"y":{"datum":4.6},"text":{"field":"name"}}},
 {"data":{"name":"txt"},"transform":[{"filter":"datum.m==7"}],"mark":{"type":"text","fontSize":6.2,"color":"#333"},"encoding":{"x":{"datum":3.1},"y":{"datum":3.67},"text":{"field":"eq"}}},
 {"data":{"name":"txt"},"transform":[{"filter":"datum.m==7"}],"mark":{"type":"text","fontSize":6.2,"color":"#333"},"encoding":{"x":{"datum":3.1},"y":{"datum":3.25},"text":{"field":"r2"}}}
]},
{"width":81,"height":81,"layer":[
 {"data":{"name":"pts"},"transform":[{"filter":"datum.m==8"}],"mark":{"type":"point","size":13,"strokeWidth":0.8,"color":"#333","opacity":0.75},"encoding":{"x":{"field":"x","type":"quantitative","scale":{"domain":[0,5],"nice":false},"axis":{"values":[0,1,2,3,4,5],"tickCount":12,"format":"d","labels":false,"title":null}},"y":{"field":"y","type":"quantitative","scale":{"domain":[0,5],"nice":false},"axis":{"values":[0,1,2,3,4,5],"tickCount":12,"format":"d","labels":false,"title":null}}}},
 {"data":{"name":"fit"},"transform":[{"filter":"datum.m==8"}],"mark":{"type":"line","color":"#ff2a2a","strokeWidth":0.9},"encoding":{"x":{"field":"x","type":"quantitative"},"y":{"field":"y","type":"quantitative"}}},
 {"data":{"name":"txt"},"transform":[{"filter":"datum.m==8"}],"mark":{"type":"text","align":"left","fontSize":7,"color":"#333"},"encoding":{"x":{"datum":0.12},"y":{"datum":4.6},"text":{"field":"name"}}},
 {"data":{"name":"txt"},"transform":[{"filter":"datum.m==8"}],"mark":{"type":"text","fontSize":6.2,"color":"#333"},"encoding":{"x":{"datum":3.15},"y":{"datum":0.7},"text":{"field":"eq"}}},
 {"data":{"name":"txt"},"transform":[{"filter":"datum.m==8"}],"mark":{"type":"text","fontSize":6.2,"color":"#333"},"encoding":{"x":{"datum":3.15},"y":{"datum":0.25},"text":{"field":"r2"}}}
]},
{"width":81,"height":81,"layer":[
 {"data":{"name":"pts"},"transform":[{"filter":"datum.m==9"}],"mark":{"type":"point","size":13,"strokeWidth":0.8,"color":"#333","opacity":0.75},"encoding":{"x":{"field":"x","type":"quantitative","scale":{"domain":[0,5],"nice":false},"axis":{"values":[0,1,2,3,4,5],"tickCount":12,"format":"d","title":"AAE(UV−IR)","titlePadding":5}},"y":{"field":"y","type":"quantitative","scale":{"domain":[0,5],"nice":false},"axis":{"values":[0,1,2,3,4,5],"tickCount":12,"format":"d","title":"AAE (Vis−IR)","titlePadding":6}}}},
 {"data":{"name":"fit"},"transform":[{"filter":"datum.m==9"}],"mark":{"type":"line","color":"#ff2a2a","strokeWidth":0.9},"encoding":{"x":{"field":"x","type":"quantitative"},"y":{"field":"y","type":"quantitative"}}},
 {"data":{"name":"txt"},"transform":[{"filter":"datum.m==9"}],"mark":{"type":"text","align":"left","fontSize":7,"color":"#333"},"encoding":{"x":{"datum":0.12},"y":{"datum":4.6},"text":{"field":"name"}}},
 {"data":{"name":"txt"},"transform":[{"filter":"datum.m==9"}],"mark":{"type":"text","fontSize":6.2,"color":"#333"},"encoding":{"x":{"datum":3.1},"y":{"datum":3.67},"text":{"field":"eq"}}},
 {"data":{"name":"txt"},"transform":[{"filter":"datum.m==9"}],"mark":{"type":"text","fontSize":6.2,"color":"#333"},"encoding":{"x":{"datum":3.1},"y":{"datum":3.25},"text":{"field":"r2"}}}
]},
{"width":81,"height":81,"layer":[
 {"data":{"name":"pts"},"transform":[{"filter":"datum.m==10"}],"mark":{"type":"point","size":13,"strokeWidth":0.8,"color":"#333","opacity":0.75},"encoding":{"x":{"field":"x","type":"quantitative","scale":{"domain":[0,5],"nice":false},"axis":{"values":[0,1,2,3,4,5],"tickCount":12,"format":"d","title":"AAE(UV−IR)","titlePadding":5}},"y":{"field":"y","type":"quantitative","scale":{"domain":[0,5],"nice":false},"axis":{"values":[0,1,2,3,4,5],"tickCount":12,"format":"d","labels":false,"title":null}}}},
 {"data":{"name":"fit"},"transform":[{"filter":"datum.m==10"}],"mark":{"type":"line","color":"#ff2a2a","strokeWidth":0.9},"encoding":{"x":{"field":"x","type":"quantitative"},"y":{"field":"y","type":"quantitative"}}},
 {"data":{"name":"txt"},"transform":[{"filter":"datum.m==10"}],"mark":{"type":"text","align":"left","fontSize":7,"color":"#333"},"encoding":{"x":{"datum":0.12},"y":{"datum":4.6},"text":{"field":"name"}}},
 {"data":{"name":"txt"},"transform":[{"filter":"datum.m==10"}],"mark":{"type":"text","fontSize":6.2,"color":"#333"},"encoding":{"x":{"datum":3.15},"y":{"datum":0.78},"text":{"field":"eq"}}},
 {"data":{"name":"txt"},"transform":[{"filter":"datum.m==10"}],"mark":{"type":"text","fontSize":6.2,"color":"#333"},"encoding":{"x":{"datum":3.15},"y":{"datum":0.33},"text":{"field":"r2"}}}
]},
{"width":81,"height":81,"layer":[
 {"data":{"name":"pts"},"transform":[{"filter":"datum.m==11"}],"mark":{"type":"point","size":13,"strokeWidth":0.8,"color":"#333","opacity":0.75},"encoding":{"x":{"field":"x","type":"quantitative","scale":{"domain":[0,5],"nice":false},"axis":{"values":[0,1,2,3,4,5],"tickCount":12,"format":"d","title":"AAE(UV−IR)","titlePadding":5}},"y":{"field":"y","type":"quantitative","scale":{"domain":[0,5],"nice":false},"axis":{"values":[0,1,2,3,4,5],"tickCount":12,"format":"d","labels":false,"title":null}}}},
 {"data":{"name":"fit"},"transform":[{"filter":"datum.m==11"}],"mark":{"type":"line","color":"#ff2a2a","strokeWidth":0.9},"encoding":{"x":{"field":"x","type":"quantitative"},"y":{"field":"y","type":"quantitative"}}},
 {"data":{"name":"txt"},"transform":[{"filter":"datum.m==11"}],"mark":{"type":"text","align":"left","fontSize":7,"color":"#333"},"encoding":{"x":{"datum":0.12},"y":{"datum":4.6},"text":{"field":"name"}}},
 {"data":{"name":"txt"},"transform":[{"filter":"datum.m==11"}],"mark":{"type":"text","fontSize":6.2,"color":"#333"},"encoding":{"x":{"datum":3.15},"y":{"datum":0.78},"text":{"field":"eq"}}},
 {"data":{"name":"txt"},"transform":[{"filter":"datum.m==11"}],"mark":{"type":"text","fontSize":6.2,"color":"#333"},"encoding":{"x":{"datum":3.15},"y":{"datum":0.33},"text":{"field":"r2"}}}
]},
{"width":81,"height":81,"layer":[
 {"data":{"name":"pts"},"transform":[{"filter":"datum.m==12"}],"mark":{"type":"point","size":13,"strokeWidth":0.8,"color":"#333","opacity":0.75},"encoding":{"x":{"field":"x","type":"quantitative","scale":{"domain":[0,5],"nice":false},"axis":{"values":[0,1,2,3,4,5],"tickCount":12,"format":"d","title":"AAE(UV−IR)","titlePadding":5}},"y":{"field":"y","type":"quantitative","scale":{"domain":[0,5],"nice":false},"axis":{"values":[0,1,2,3,4,5],"tickCount":12,"format":"d","labels":false,"title":null}}}},
 {"data":{"name":"fit"},"transform":[{"filter":"datum.m==12"}],"mark":{"type":"line","color":"#ff2a2a","strokeWidth":0.9},"encoding":{"x":{"field":"x","type":"quantitative"},"y":{"field":"y","type":"quantitative"}}},
 {"data":{"name":"txt"},"transform":[{"filter":"datum.m==12"}],"mark":{"type":"text","align":"left","fontSize":7,"color":"#333"},"encoding":{"x":{"datum":0.12},"y":{"datum":4.6},"text":{"field":"name"}}},
 {"data":{"name":"txt"},"transform":[{"filter":"datum.m==12"}],"mark":{"type":"text","fontSize":6.2,"color":"#333"},"encoding":{"x":{"datum":3.1},"y":{"datum":3.67},"text":{"field":"eq"}}},
 {"data":{"name":"txt"},"transform":[{"filter":"datum.m==12"}],"mark":{"type":"text","fontSize":6.2,"color":"#333"},"encoding":{"x":{"datum":3.1},"y":{"datum":3.25},"text":{"field":"r2"}}}
]}
]},
{"spacing":2.5,"vconcat":[
{"width":74,"height":81,"data":{"name":"mon"},
 "encoding":{"x":{"field":"i","type":"quantitative","scale":{"domain":[1,15],"nice":false,"zero":false},"axis":{"values":[1,2,3,4,5,6,7,8,9,10,11,12,13,14,15],"labels":false,"title":null}},"y":{"field":"r","type":"quantitative","scale":{"domain":[0.5,1.0],"nice":false,"zero":false},"axis":{"values":[0.5,0.6,0.7,0.8,0.9,1.0],"format":".1f","title":"Ratio (median)","titlePadding":3,"labelPadding":7}}},
 "layer":[
  {"mark":{"type":"line","color":"#b5b5b5","strokeWidth":1}},
  {"mark":{"type":"point","filled":true,"color":"#111","size":14,"opacity":1}},
  {"mark":{"type":"text","fontSize":11.5,"color":"#222"},"encoding":{"x":{"datum":2.4},"y":{"datum":0.93},"text":{"value":"(b)"}}}
 ]},
{"width":74,"height":81,"data":{"name":"mon"},
 "encoding":{"x":{"field":"i","type":"quantitative","scale":{"domain":[1,15],"nice":false,"zero":false},"axis":{"values":[1,2,3,4,5,6,7,8,9,10,11,12,13,14,15],"labels":false,"title":null}},"y":{"field":"s","type":"quantitative","scale":{"domain":[0.5,1.6],"nice":false,"zero":false},"axis":{"values":[0.6,0.8,1.0,1.2,1.4,1.6],"format":".1f","title":"Slope","titlePadding":3,"labelPadding":7}}},
 "layer":[
  {"mark":{"type":"line","color":"#b5b5b5","strokeWidth":1}},
  {"mark":{"type":"point","filled":true,"color":"#111","size":14,"opacity":1}},
  {"mark":{"type":"text","fontSize":11.5,"color":"#222"},"encoding":{"x":{"datum":2.4},"y":{"datum":1.46},"text":{"value":"(c)"}}}
 ]},
{"width":74,"height":81,"data":{"name":"mon"},
 "encoding":{"x":{"field":"i","type":"quantitative","scale":{"domain":[1,15],"nice":false,"zero":false},"axis":{"values":[1,2,3,4,5,6,7,8,9,10,11,12,13,14,15],"labelExpr":"datum.value % 2 == 1 ? ['J','F','M','A','M','J','J','A','S','O','N','D','J','F','M'][datum.value-1] : ''","title":"Month","titleFontSize":10.5,"titlePadding":5}},"y":{"field":"c","type":"quantitative","scale":{"domain":[-0.6,0],"nice":false,"zero":false,"reverse":true},"axis":{"values":[-0.6,-0.5,-0.4,-0.3,-0.2,-0.1,0],"format":".1f","labelExpr":"replace(datum.label,'−','-')","title":"Intercept","titlePadding":3,"labelPadding":7}}},
 "layer":[
  {"mark":{"type":"line","color":"#b5b5b5","strokeWidth":1}},
  {"mark":{"type":"point","filled":true,"color":"#111","size":14,"opacity":1}},
  {"mark":{"type":"text","fontSize":11.5,"color":"#222"},"encoding":{"x":{"datum":2.4},"y":{"datum":-0.52},"text":{"value":"(d)"}}}
 ]}
]}
]
}
